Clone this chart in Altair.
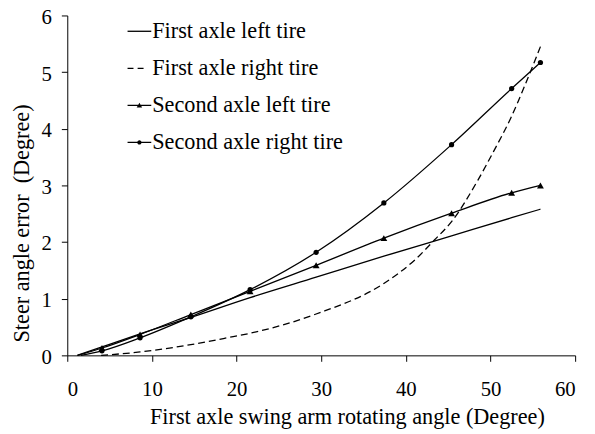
import altair as alt
import pandas as pd

SERIES = [
    "First axle left tire",
    "First axle right tire",
    "Second axle left tire",
    "Second axle right tire",
]

# First axle left tire (solid, no markers)
x_fl = [1.2, 4.1, 8.6, 14.6, 21.6, 29.4, 37.4, 45.4, 52.5, 55.9]
y_fl = [0.0, 0.15, 0.38, 0.67, 1.02, 1.38, 1.75, 2.11, 2.43, 2.58]

# First axle right tire (dashed, no markers)
x_fr = [4.0, 8.6, 14.6, 18.9, 21.6, 29.4, 37.4, 41.1, 43.4, 45.4, 48.5, 50.4, 52.4, 54.1, 55.9]
y_fr = [0.0, 0.06, 0.19, 0.31, 0.39, 0.73, 1.27, 1.69, 2.04, 2.36, 3.09, 3.61, 4.19, 4.78, 5.45]

# Second axle left tire (triangles)
x_sl = [1.2, 4.1, 8.6, 14.6, 21.6, 29.4, 37.4, 45.4, 52.5, 55.9]
y_sl = [0.0, 0.13, 0.37, 0.72, 1.13, 1.59, 2.07, 2.51, 2.87, 3.00]

# Second axle right tire (circles)
x_sr = [1.6, 4.1, 8.6, 14.6, 21.6, 29.4, 37.4, 45.4, 52.5, 55.9]
y_sr = [0.0, 0.08, 0.31, 0.68, 1.16, 1.82, 2.69, 3.72, 4.71, 5.17]

x_ticks = [0, 10, 20, 30, 40, 50, 60]
y_ticks = [0, 1, 2, 3, 4, 5, 6]

rows = []
for name, xs, ys in zip(SERIES, [x_fl, x_fr, x_sl, x_sr], [y_fl, y_fr, y_sl, y_sr]):
    for i, (xv, yv) in enumerate(zip(xs, ys)):
        rows.append({"series": name, "x": xv, "y": yv, "order": i,
                     "marker": (name in SERIES[2:]) and i > 0})
df = pd.DataFrame(rows)

FONT = "Liberation Serif"
TXT = 22.5

x_enc = alt.X("x:Q", scale=alt.Scale(domain=[0, 60], nice=False),
              axis=alt.Axis(values=x_ticks, title="First axle swing arm rotating angle (Degree)",
                            labelPadding=18, titleX=283, titleY=69,
                            titleBaseline="alphabetic", titleAlign="center"))
y_enc = alt.Y("y:Q", scale=alt.Scale(domain=[0, 6], nice=False),
              axis=alt.Axis(values=y_ticks, title="Steer angle error\u00a0 (Degree)",
                            labelPadding=10, labelOffset=2, titleX=-39, titleY=210,
                            titleBaseline="alphabetic", titleAlign="center", titleAngle=270))

base = alt.Chart(df)

solid_lines = base.transform_filter(alt.datum.series != SERIES[1]).mark_line(
    color="black", strokeWidth=1.3, interpolate="monotone"
).encode(x=x_enc, y=y_enc, detail="series:N", order="order:Q")

dashed_line = base.transform_filter(alt.datum.series == SERIES[1]).mark_line(
    color="black", strokeWidth=1.3, interpolate="monotone", strokeDash=[7, 4]
).encode(x=x_enc, y=y_enc, order="order:Q")

tri = base.transform_filter(
    (alt.datum.series == SERIES[2]) & alt.datum.marker
).mark_point(shape="triangle-up", size=48, filled=True, color="black", opacity=1).encode(x=x_enc, y=y_enc)

circ = base.transform_filter(
    (alt.datum.series == SERIES[3]) & alt.datum.marker
).mark_point(shape="circle", size=28, filled=True, color="black", opacity=1).encode(x=x_enc, y=y_enc)

# legend symbols: thin filled bars (line samples) plus marker glyphs, in symbol units
BAR = "M-1,-0.055H1V0.055H-1Z"
LEG_PATHS = [
    BAR,
    "M-1,-0.055H-0.5V0.055H-1ZM-0.15,-0.055H0.35V0.055H-0.15Z",
    BAR + "M0,-0.22L0.23,0.17L-0.23,0.17Z",
    BAR + "M-0.18,0A0.18,0.18,0,1,1,0.18,0A0.18,0.18,0,1,1,-0.18,0Z",
]

# invisible carrier layer for the legend (opacity 0 marks, legend symbols stay opaque)
legend_layer = base.transform_filter(alt.datum.order == 0).mark_point(
    filled=True, color="black", opacity=0
).encode(
    x=x_enc, y=y_enc,
    shape=alt.Shape("series:N", scale=alt.Scale(domain=SERIES, range=LEG_PATHS),
                    legend=alt.Legend(title=None, orient="none", legendX=61, legendY=4,
                                      symbolSize=576, symbolStrokeWidth=0,
                                      symbolFillColor="black", symbolOpacity=1,
                                      labelFont=FONT, labelFontSize=TXT, labelColor="black",
                                      labelOffset=1, rowPadding=13.5, labelLimit=400,
                                      padding=0)),
)

chart = alt.layer(solid_lines, dashed_line, tri, circ, legend_layer).properties(
    width=514, height=344,
    autosize=alt.AutoSizeParams(type="none"),
    padding={"left": 60, "top": 5, "right": 12, "bottom": 75},
).configure_view(stroke=None).configure_axis(
    grid=False, domainColor="black", tickColor="black", labelColor="black", titleColor="black",
    labelFont=FONT, titleFont=FONT, labelFontSize=21, titleFontSize=TXT, titleFontWeight="normal",
    tickSize=6, domainWidth=1, tickWidth=1,
).configure_legend(labelFont=FONT)

chart.save("out.html", embed_options={"renderer": "svg", "actions": False})
